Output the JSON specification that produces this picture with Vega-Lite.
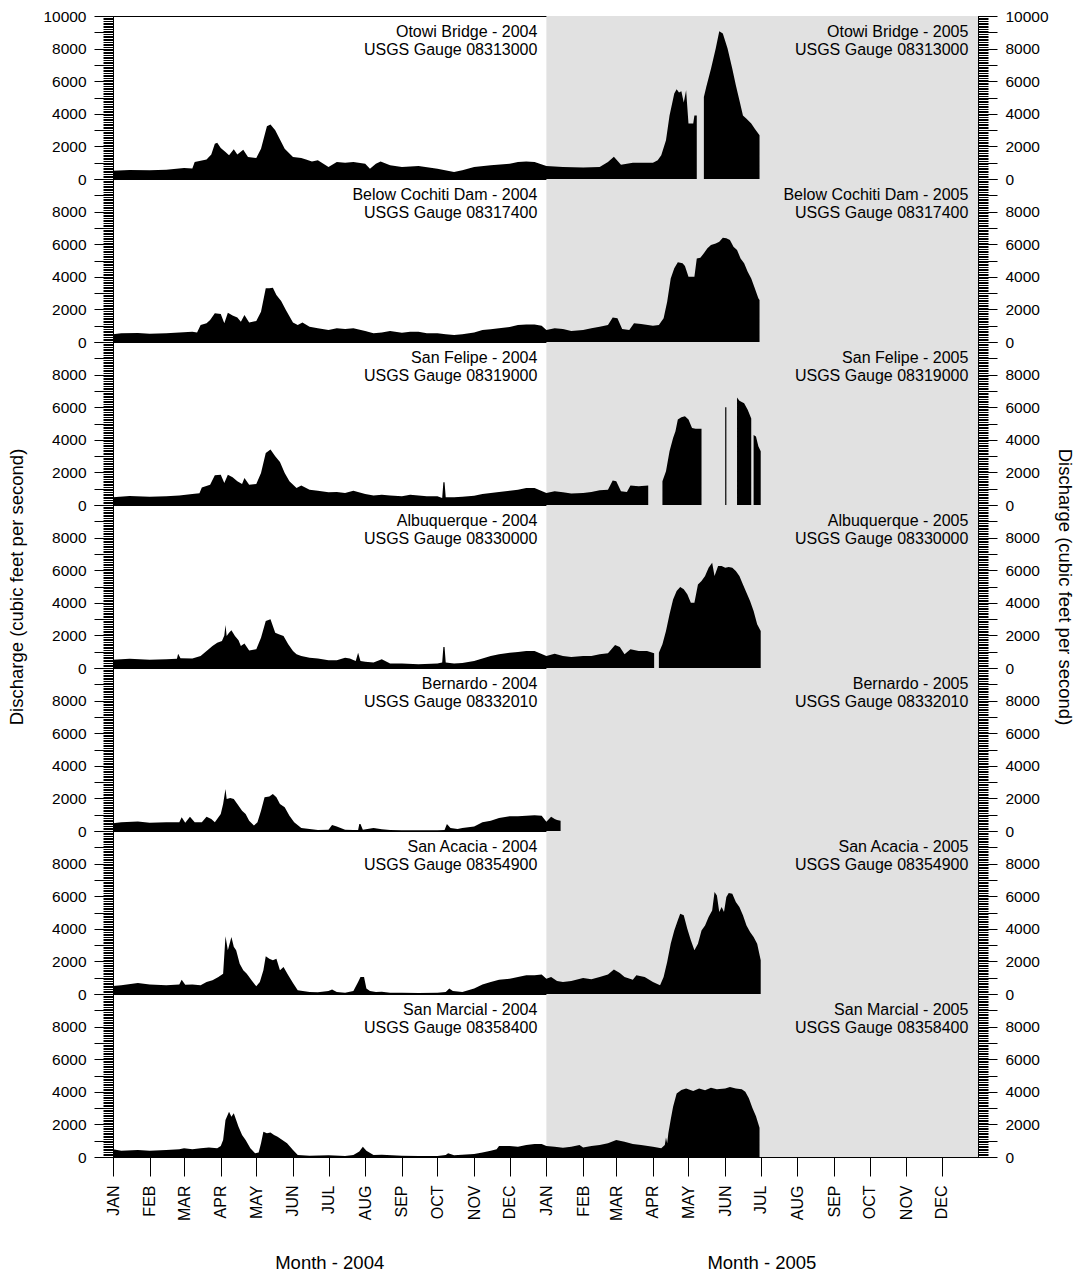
{
  "$schema": "https://vega.github.io/schema/vega-lite/v6.json",
  "background": "white",
  "padding": {"left": 7, "top": 8, "right": 6, "bottom": 0},
  "spacing": 0,
  "bounds": "flush",
  "config": {
    "font": "Liberation Sans",
    "view": {"stroke": "black", "strokeWidth": 1},
    "axis": {"labelFont": "Liberation Sans", "labelFontSize": 15.5, "labelColor": "black", "tickColor": "black", "domainColor": "black", "titleFont": "Liberation Sans", "titleFontSize": 18.5, "titleFontWeight": "normal", "titleColor": "black", "grid": false},
    "text": {"font": "Liberation Sans", "color": "black"}
  },
  "datasets": {
    "s1": [{"d":"2004-01-01","q":510},{"d":"2004-01-15","q":550},{"d":"2004-02-01","q":530},{"d":"2004-02-15","q":570},{"d":"2004-03-01","q":670},{"d":"2004-03-08","q":640},{"d":"2004-03-10","q":1040},{"d":"2004-03-20","q":1200},{"d":"2004-03-24","q":1500},{"d":"2004-03-27","q":2170},{"d":"2004-03-29","q":2230},{"d":"2004-04-01","q":1900},{"d":"2004-04-05","q":1660},{"d":"2004-04-08","q":1450},{"d":"2004-04-12","q":1820},{"d":"2004-04-15","q":1500},{"d":"2004-04-20","q":1800},{"d":"2004-04-24","q":1350},{"d":"2004-05-01","q":1290},{"d":"2004-05-05","q":1860},{"d":"2004-05-10","q":3230},{"d":"2004-05-13","q":3350},{"d":"2004-05-17","q":2990},{"d":"2004-05-21","q":2430},{"d":"2004-05-25","q":1860},{"d":"2004-06-01","q":1350},{"d":"2004-06-08","q":1290},{"d":"2004-06-12","q":1200},{"d":"2004-06-17","q":1080},{"d":"2004-06-22","q":1150},{"d":"2004-07-01","q":740},{"d":"2004-07-08","q":1040},{"d":"2004-07-15","q":1000},{"d":"2004-07-22","q":1040},{"d":"2004-08-01","q":940},{"d":"2004-08-05","q":630},{"d":"2004-08-10","q":940},{"d":"2004-08-14","q":1080},{"d":"2004-08-22","q":840},{"d":"2004-09-01","q":740},{"d":"2004-09-15","q":800},{"d":"2004-10-01","q":630},{"d":"2004-10-15","q":430},{"d":"2004-10-22","q":530},{"d":"2004-11-01","q":740},{"d":"2004-11-15","q":840},{"d":"2004-12-01","q":940},{"d":"2004-12-08","q":1040},{"d":"2004-12-15","q":1080},{"d":"2004-12-22","q":1040},{"d":"2005-01-01","q":800},{"d":"2005-01-15","q":740},{"d":"2005-02-01","q":700},{"d":"2005-02-15","q":740},{"d":"2005-02-22","q":1040},{"d":"2005-02-27","q":1370},{"d":"2005-03-05","q":880},{"d":"2005-03-15","q":1000},{"d":"2005-04-01","q":1000},{"d":"2005-04-05","q":1150},{"d":"2005-04-08","q":1450},{"d":"2005-04-12","q":2370},{"d":"2005-04-15","q":3900},{"d":"2005-04-19","q":5240},{"d":"2005-04-21","q":5500},{"d":"2005-04-23","q":5300},{"d":"2005-04-25","q":5380},{"d":"2005-04-27","q":4700},{"d":"2005-04-29","q":5440},{"d":"2005-05-01","q":3400},{"d":"2005-05-05","q":3400},{"d":"2005-05-06","q":3900},{"d":"2005-05-08","q":3900},{"d":"2005-05-10","q":null},{"d":"2005-05-14","q":5030},{"d":"2005-05-16","q":5640},{"d":"2005-05-20","q":6770},{"d":"2005-05-24","q":8000},{"d":"2005-05-27","q":9060},{"d":"2005-05-30","q":8920},{"d":"2005-06-03","q":8000},{"d":"2005-06-07","q":6770},{"d":"2005-06-10","q":5750},{"d":"2005-06-13","q":4830},{"d":"2005-06-16","q":3900},{"d":"2005-06-19","q":3700},{"d":"2005-06-23","q":3400},{"d":"2005-06-26","q":3090},{"d":"2005-06-30","q":2680}],
    "s2": [{"d":"2004-01-01","q":470},{"d":"2004-01-08","q":530},{"d":"2004-01-22","q":550},{"d":"2004-02-01","q":510},{"d":"2004-02-15","q":530},{"d":"2004-02-26","q":590},{"d":"2004-03-08","q":630},{"d":"2004-03-12","q":590},{"d":"2004-03-15","q":1040},{"d":"2004-03-20","q":1150},{"d":"2004-03-23","q":1350},{"d":"2004-03-27","q":1760},{"d":"2004-04-01","q":1720},{"d":"2004-04-04","q":1150},{"d":"2004-04-07","q":1800},{"d":"2004-04-11","q":1620},{"d":"2004-04-15","q":1500},{"d":"2004-04-18","q":1250},{"d":"2004-04-21","q":1660},{"d":"2004-04-25","q":1200},{"d":"2004-05-01","q":1290},{"d":"2004-05-05","q":1860},{"d":"2004-05-09","q":3290},{"d":"2004-05-12","q":3290},{"d":"2004-05-15","q":3330},{"d":"2004-05-18","q":2880},{"d":"2004-05-22","q":2520},{"d":"2004-05-26","q":1960},{"d":"2004-06-01","q":1200},{"d":"2004-06-05","q":1040},{"d":"2004-06-09","q":1200},{"d":"2004-06-15","q":940},{"d":"2004-06-22","q":840},{"d":"2004-07-01","q":740},{"d":"2004-07-08","q":840},{"d":"2004-07-15","q":800},{"d":"2004-07-22","q":840},{"d":"2004-08-01","q":670},{"d":"2004-08-08","q":530},{"d":"2004-08-15","q":590},{"d":"2004-08-22","q":670},{"d":"2004-09-01","q":570},{"d":"2004-09-08","q":630},{"d":"2004-09-15","q":630},{"d":"2004-09-22","q":530},{"d":"2004-10-01","q":530},{"d":"2004-10-08","q":470},{"d":"2004-10-15","q":430},{"d":"2004-10-22","q":470},{"d":"2004-11-01","q":590},{"d":"2004-11-08","q":740},{"d":"2004-11-15","q":780},{"d":"2004-11-22","q":840},{"d":"2004-12-01","q":920},{"d":"2004-12-08","q":1040},{"d":"2004-12-15","q":1080},{"d":"2004-12-22","q":1080},{"d":"2004-12-28","q":1000},{"d":"2005-01-01","q":740},{"d":"2005-01-08","q":840},{"d":"2005-01-15","q":800},{"d":"2005-01-22","q":670},{"d":"2005-02-01","q":740},{"d":"2005-02-08","q":840},{"d":"2005-02-15","q":940},{"d":"2005-02-22","q":1040},{"d":"2005-02-26","q":1500},{"d":"2005-03-02","q":1450},{"d":"2005-03-06","q":800},{"d":"2005-03-12","q":740},{"d":"2005-03-16","q":1150},{"d":"2005-03-22","q":1100},{"d":"2005-04-01","q":1000},{"d":"2005-04-06","q":1040},{"d":"2005-04-10","q":1450},{"d":"2005-04-13","q":2470},{"d":"2005-04-16","q":3900},{"d":"2005-04-19","q":4520},{"d":"2005-04-22","q":4890},{"d":"2005-04-26","q":4830},{"d":"2005-04-28","q":4660},{"d":"2005-05-01","q":4010},{"d":"2005-05-06","q":4010},{"d":"2005-05-08","q":5130},{"d":"2005-05-11","q":5170},{"d":"2005-05-14","q":5440},{"d":"2005-05-17","q":5750},{"d":"2005-05-20","q":5950},{"d":"2005-05-24","q":6050},{"d":"2005-05-27","q":6150},{"d":"2005-05-30","q":6400},{"d":"2005-06-02","q":6360},{"d":"2005-06-05","q":6260},{"d":"2005-06-08","q":5850},{"d":"2005-06-11","q":5640},{"d":"2005-06-14","q":5130},{"d":"2005-06-17","q":4830},{"d":"2005-06-20","q":4310},{"d":"2005-06-23","q":3900},{"d":"2005-06-26","q":3290},{"d":"2005-06-29","q":2680},{"d":"2005-06-30","q":2580}],
    "s3": [{"d":"2004-01-01","q":470},{"d":"2004-01-15","q":550},{"d":"2004-02-01","q":510},{"d":"2004-02-15","q":530},{"d":"2004-02-26","q":590},{"d":"2004-03-08","q":670},{"d":"2004-03-14","q":720},{"d":"2004-03-16","q":1080},{"d":"2004-03-23","q":1250},{"d":"2004-03-27","q":1820},{"d":"2004-04-01","q":1860},{"d":"2004-04-04","q":1350},{"d":"2004-04-07","q":1860},{"d":"2004-04-11","q":1700},{"d":"2004-04-15","q":1450},{"d":"2004-04-19","q":1290},{"d":"2004-04-21","q":1660},{"d":"2004-04-25","q":1250},{"d":"2004-05-01","q":1290},{"d":"2004-05-05","q":1960},{"d":"2004-05-09","q":3190},{"d":"2004-05-13","q":3400},{"d":"2004-05-17","q":2990},{"d":"2004-05-21","q":2640},{"d":"2004-05-25","q":1960},{"d":"2004-05-29","q":1450},{"d":"2004-06-04","q":1040},{"d":"2004-06-08","q":1200},{"d":"2004-06-15","q":940},{"d":"2004-06-22","q":880},{"d":"2004-07-01","q":780},{"d":"2004-07-08","q":800},{"d":"2004-07-15","q":740},{"d":"2004-07-22","q":880},{"d":"2004-08-01","q":670},{"d":"2004-08-08","q":590},{"d":"2004-08-15","q":630},{"d":"2004-08-22","q":590},{"d":"2004-09-01","q":530},{"d":"2004-09-08","q":630},{"d":"2004-09-15","q":590},{"d":"2004-09-22","q":530},{"d":"2004-10-01","q":530},{"d":"2004-10-05","q":430},{"d":"2004-10-06","q":1390},{"d":"2004-10-07","q":1390},{"d":"2004-10-08","q":470},{"d":"2004-10-15","q":470},{"d":"2004-10-22","q":510},{"d":"2004-11-01","q":570},{"d":"2004-11-08","q":670},{"d":"2004-11-15","q":740},{"d":"2004-11-22","q":800},{"d":"2004-12-01","q":880},{"d":"2004-12-08","q":940},{"d":"2004-12-15","q":1040},{"d":"2004-12-22","q":1040},{"d":"2005-01-01","q":740},{"d":"2005-01-08","q":840},{"d":"2005-01-15","q":780},{"d":"2005-01-22","q":700},{"d":"2005-02-01","q":740},{"d":"2005-02-08","q":800},{"d":"2005-02-15","q":900},{"d":"2005-02-22","q":940},{"d":"2005-02-26","q":1500},{"d":"2005-03-01","q":1450},{"d":"2005-03-05","q":840},{"d":"2005-03-10","q":800},{"d":"2005-03-13","q":1200},{"d":"2005-03-20","q":1150},{"d":"2005-03-28","q":1190},{"d":"2005-04-02","q":null},{"d":"2005-04-09","q":1450},{"d":"2005-04-12","q":2070},{"d":"2005-04-15","q":3290},{"d":"2005-04-18","q":4110},{"d":"2005-04-20","q":4520},{"d":"2005-04-22","q":5240},{"d":"2005-04-25","q":5380},{"d":"2005-04-28","q":5440},{"d":"2005-05-01","q":5240},{"d":"2005-05-04","q":4720},{"d":"2005-05-07","q":4680},{"d":"2005-05-12","q":4680},{"d":"2005-05-20","q":null},{"d":"2005-06-01","q":5990},{"d":"2005-06-02","q":5990},{"d":"2005-06-06","q":null},{"d":"2005-06-11","q":6600},{"d":"2005-06-13","q":6400},{"d":"2005-06-17","q":6250},{"d":"2005-06-20","q":5850},{"d":"2005-06-23","q":5300},{"d":"2005-06-24","q":null},{"d":"2005-06-25","q":4300},{"d":"2005-06-27","q":4200},{"d":"2005-06-29","q":3600},{"d":"2005-07-01","q":3300}],
    "s4": [{"d":"2004-01-01","q":510},{"d":"2004-01-15","q":570},{"d":"2004-02-01","q":510},{"d":"2004-02-15","q":530},{"d":"2004-02-24","q":560},{"d":"2004-02-25","q":880},{"d":"2004-02-27","q":600},{"d":"2004-03-08","q":590},{"d":"2004-03-15","q":740},{"d":"2004-03-20","q":1040},{"d":"2004-03-25","q":1350},{"d":"2004-03-29","q":1550},{"d":"2004-04-02","q":1660},{"d":"2004-04-04","q":2000},{"d":"2004-04-05","q":2640},{"d":"2004-04-06","q":1960},{"d":"2004-04-08","q":2170},{"d":"2004-04-10","q":2310},{"d":"2004-04-13","q":1960},{"d":"2004-04-16","q":1700},{"d":"2004-04-18","q":1350},{"d":"2004-04-21","q":1500},{"d":"2004-04-25","q":1080},{"d":"2004-05-01","q":1150},{"d":"2004-05-05","q":1860},{"d":"2004-05-09","q":2880},{"d":"2004-05-13","q":2990},{"d":"2004-05-17","q":2170},{"d":"2004-05-20","q":2070},{"d":"2004-05-24","q":1960},{"d":"2004-05-28","q":1450},{"d":"2004-06-01","q":1040},{"d":"2004-06-04","q":840},{"d":"2004-06-08","q":740},{"d":"2004-06-15","q":630},{"d":"2004-06-22","q":590},{"d":"2004-07-01","q":470},{"d":"2004-07-08","q":470},{"d":"2004-07-15","q":630},{"d":"2004-07-19","q":590},{"d":"2004-07-24","q":430},{"d":"2004-07-26","q":940},{"d":"2004-07-28","q":430},{"d":"2004-08-01","q":390},{"d":"2004-08-08","q":330},{"d":"2004-08-15","q":530},{"d":"2004-08-22","q":270},{"d":"2004-09-01","q":270},{"d":"2004-09-15","q":230},{"d":"2004-10-01","q":270},{"d":"2004-10-05","q":330},{"d":"2004-10-06","q":1290},{"d":"2004-10-07","q":1290},{"d":"2004-10-08","q":330},{"d":"2004-10-15","q":270},{"d":"2004-10-22","q":310},{"d":"2004-11-01","q":430},{"d":"2004-11-08","q":590},{"d":"2004-11-15","q":740},{"d":"2004-11-22","q":840},{"d":"2004-12-01","q":940},{"d":"2004-12-08","q":980},{"d":"2004-12-15","q":1040},{"d":"2004-12-22","q":1040},{"d":"2005-01-01","q":740},{"d":"2005-01-08","q":880},{"d":"2005-01-15","q":740},{"d":"2005-01-22","q":670},{"d":"2005-02-01","q":740},{"d":"2005-02-08","q":740},{"d":"2005-02-15","q":840},{"d":"2005-02-22","q":900},{"d":"2005-02-28","q":1410},{"d":"2005-03-04","q":1290},{"d":"2005-03-08","q":840},{"d":"2005-03-13","q":1150},{"d":"2005-03-20","q":1040},{"d":"2005-03-27","q":1040},{"d":"2005-04-02","q":900},{"d":"2005-04-04","q":null},{"d":"2005-04-06","q":940},{"d":"2005-04-09","q":1450},{"d":"2005-04-12","q":2270},{"d":"2005-04-15","q":3290},{"d":"2005-04-18","q":4210},{"d":"2005-04-21","q":4720},{"d":"2005-04-24","q":4970},{"d":"2005-04-27","q":4830},{"d":"2005-04-30","q":4520},{"d":"2005-05-03","q":4010},{"d":"2005-05-06","q":4010},{"d":"2005-05-09","q":5130},{"d":"2005-05-12","q":5340},{"d":"2005-05-15","q":5640},{"d":"2005-05-18","q":6150},{"d":"2005-05-21","q":6460},{"d":"2005-05-23","q":5640},{"d":"2005-05-26","q":6260},{"d":"2005-05-29","q":6260},{"d":"2005-06-01","q":6150},{"d":"2005-06-04","q":6200},{"d":"2005-06-07","q":6150},{"d":"2005-06-10","q":5950},{"d":"2005-06-13","q":5640},{"d":"2005-06-16","q":5130},{"d":"2005-06-19","q":4620},{"d":"2005-06-22","q":4110},{"d":"2005-06-25","q":3500},{"d":"2005-06-28","q":2680},{"d":"2005-07-01","q":2270}],
    "s5": [{"d":"2004-01-01","q":470},{"d":"2004-01-08","q":530},{"d":"2004-01-22","q":590},{"d":"2004-02-01","q":510},{"d":"2004-02-15","q":530},{"d":"2004-02-26","q":530},{"d":"2004-02-28","q":840},{"d":"2004-03-02","q":510},{"d":"2004-03-06","q":880},{"d":"2004-03-10","q":530},{"d":"2004-03-16","q":530},{"d":"2004-03-20","q":880},{"d":"2004-03-24","q":740},{"d":"2004-03-27","q":530},{"d":"2004-04-01","q":1040},{"d":"2004-04-03","q":1660},{"d":"2004-04-05","q":2580},{"d":"2004-04-06","q":1960},{"d":"2004-04-09","q":2020},{"d":"2004-04-12","q":1960},{"d":"2004-04-15","q":1660},{"d":"2004-04-19","q":1250},{"d":"2004-04-22","q":1040},{"d":"2004-04-25","q":630},{"d":"2004-04-29","q":330},{"d":"2004-05-02","q":530},{"d":"2004-05-05","q":1250},{"d":"2004-05-08","q":2070},{"d":"2004-05-12","q":2110},{"d":"2004-05-15","q":2270},{"d":"2004-05-18","q":2070},{"d":"2004-05-21","q":1660},{"d":"2004-05-25","q":1450},{"d":"2004-05-29","q":940},{"d":"2004-06-02","q":530},{"d":"2004-06-08","q":180},{"d":"2004-06-15","q":120},{"d":"2004-06-22","q":60},{"d":"2004-07-01","q":80},{"d":"2004-07-04","q":370},{"d":"2004-07-08","q":270},{"d":"2004-07-15","q":80},{"d":"2004-07-22","q":60},{"d":"2004-07-26","q":60},{"d":"2004-07-27","q":430},{"d":"2004-07-28","q":430},{"d":"2004-07-30","q":80},{"d":"2004-08-08","q":180},{"d":"2004-08-15","q":100},{"d":"2004-08-22","q":60},{"d":"2004-09-01","q":40},{"d":"2004-09-15","q":40},{"d":"2004-10-01","q":40},{"d":"2004-10-07","q":60},{"d":"2004-10-09","q":430},{"d":"2004-10-12","q":180},{"d":"2004-10-18","q":120},{"d":"2004-10-22","q":180},{"d":"2004-11-01","q":270},{"d":"2004-11-08","q":530},{"d":"2004-11-15","q":630},{"d":"2004-11-22","q":800},{"d":"2004-12-01","q":900},{"d":"2004-12-08","q":900},{"d":"2004-12-15","q":940},{"d":"2004-12-22","q":960},{"d":"2004-12-28","q":940},{"d":"2005-01-01","q":570},{"d":"2005-01-05","q":880},{"d":"2005-01-08","q":740},{"d":"2005-01-10","q":670},{"d":"2005-01-13","q":630}],
    "s6": [{"d":"2004-01-01","q":490},{"d":"2004-01-08","q":530},{"d":"2004-01-22","q":670},{"d":"2004-02-01","q":590},{"d":"2004-02-15","q":530},{"d":"2004-02-26","q":590},{"d":"2004-02-28","q":880},{"d":"2004-03-02","q":570},{"d":"2004-03-08","q":590},{"d":"2004-03-15","q":530},{"d":"2004-03-20","q":740},{"d":"2004-03-25","q":840},{"d":"2004-03-30","q":1040},{"d":"2004-04-03","q":1250},{"d":"2004-04-05","q":3540},{"d":"2004-04-07","q":2680},{"d":"2004-04-10","q":3500},{"d":"2004-04-12","q":2900},{"d":"2004-04-14","q":2680},{"d":"2004-04-17","q":1860},{"d":"2004-04-20","q":1450},{"d":"2004-04-23","q":1250},{"d":"2004-04-27","q":840},{"d":"2004-05-01","q":470},{"d":"2004-05-04","q":740},{"d":"2004-05-07","q":1450},{"d":"2004-05-09","q":2310},{"d":"2004-05-12","q":2170},{"d":"2004-05-15","q":2070},{"d":"2004-05-18","q":2170},{"d":"2004-05-21","q":1450},{"d":"2004-05-24","q":1660},{"d":"2004-05-28","q":1150},{"d":"2004-06-01","q":670},{"d":"2004-06-05","q":230},{"d":"2004-06-15","q":120},{"d":"2004-06-22","q":100},{"d":"2004-07-01","q":180},{"d":"2004-07-04","q":270},{"d":"2004-07-08","q":120},{"d":"2004-07-15","q":80},{"d":"2004-07-22","q":180},{"d":"2004-07-26","q":740},{"d":"2004-07-28","q":1040},{"d":"2004-07-31","q":1040},{"d":"2004-08-02","q":330},{"d":"2004-08-05","q":180},{"d":"2004-08-10","q":120},{"d":"2004-08-15","q":140},{"d":"2004-08-22","q":80},{"d":"2004-09-01","q":80},{"d":"2004-09-15","q":60},{"d":"2004-10-01","q":80},{"d":"2004-10-08","q":120},{"d":"2004-10-11","q":330},{"d":"2004-10-14","q":180},{"d":"2004-10-22","q":120},{"d":"2004-11-01","q":330},{"d":"2004-11-08","q":590},{"d":"2004-11-15","q":740},{"d":"2004-11-22","q":880},{"d":"2004-12-01","q":940},{"d":"2004-12-08","q":1040},{"d":"2004-12-15","q":1150},{"d":"2004-12-22","q":1150},{"d":"2004-12-28","q":1190},{"d":"2005-01-01","q":940},{"d":"2005-01-05","q":1040},{"d":"2005-01-10","q":800},{"d":"2005-01-15","q":740},{"d":"2005-01-22","q":800},{"d":"2005-02-01","q":980},{"d":"2005-02-08","q":900},{"d":"2005-02-15","q":1040},{"d":"2005-02-22","q":1200},{"d":"2005-02-27","q":1500},{"d":"2005-03-04","q":1290},{"d":"2005-03-08","q":1040},{"d":"2005-03-15","q":880},{"d":"2005-03-18","q":1150},{"d":"2005-03-25","q":1040},{"d":"2005-04-01","q":740},{"d":"2005-04-07","q":530},{"d":"2005-04-10","q":1040},{"d":"2005-04-13","q":1960},{"d":"2005-04-16","q":3090},{"d":"2005-04-19","q":3900},{"d":"2005-04-22","q":4520},{"d":"2005-04-24","q":4930},{"d":"2005-04-27","q":4830},{"d":"2005-04-30","q":4010},{"d":"2005-05-03","q":3290},{"d":"2005-05-06","q":2680},{"d":"2005-05-09","q":3090},{"d":"2005-05-12","q":3900},{"d":"2005-05-15","q":4210},{"d":"2005-05-18","q":4720},{"d":"2005-05-21","q":5130},{"d":"2005-05-23","q":6260},{"d":"2005-05-25","q":6050},{"d":"2005-05-27","q":5030},{"d":"2005-05-29","q":5340},{"d":"2005-05-31","q":5030},{"d":"2005-06-02","q":5950},{"d":"2005-06-04","q":6200},{"d":"2005-06-07","q":6150},{"d":"2005-06-10","q":5640},{"d":"2005-06-13","q":5340},{"d":"2005-06-16","q":4830},{"d":"2005-06-19","q":4210},{"d":"2005-06-22","q":3800},{"d":"2005-06-25","q":3500},{"d":"2005-06-28","q":3090},{"d":"2005-07-01","q":2070}],
    "s7": [{"d":"2004-01-01","q":470},{"d":"2004-01-08","q":390},{"d":"2004-01-22","q":430},{"d":"2004-02-01","q":390},{"d":"2004-02-15","q":430},{"d":"2004-02-26","q":470},{"d":"2004-03-01","q":530},{"d":"2004-03-08","q":470},{"d":"2004-03-15","q":530},{"d":"2004-03-22","q":590},{"d":"2004-03-29","q":530},{"d":"2004-04-01","q":670},{"d":"2004-04-03","q":1040},{"d":"2004-04-05","q":2270},{"d":"2004-04-08","q":2780},{"d":"2004-04-10","q":2470},{"d":"2004-04-12","q":2680},{"d":"2004-04-14","q":2270},{"d":"2004-04-16","q":1860},{"d":"2004-04-19","q":1350},{"d":"2004-04-22","q":1040},{"d":"2004-04-26","q":530},{"d":"2004-04-30","q":230},{"d":"2004-05-03","q":270},{"d":"2004-05-05","q":840},{"d":"2004-05-07","q":1550},{"d":"2004-05-10","q":1450},{"d":"2004-05-13","q":1500},{"d":"2004-05-16","q":1350},{"d":"2004-05-19","q":1250},{"d":"2004-05-23","q":1040},{"d":"2004-05-27","q":840},{"d":"2004-06-01","q":430},{"d":"2004-06-05","q":120},{"d":"2004-06-15","q":80},{"d":"2004-07-01","q":100},{"d":"2004-07-15","q":60},{"d":"2004-07-22","q":120},{"d":"2004-07-27","q":330},{"d":"2004-07-30","q":630},{"d":"2004-08-02","q":390},{"d":"2004-08-08","q":120},{"d":"2004-08-15","q":140},{"d":"2004-09-01","q":80},{"d":"2004-09-15","q":60},{"d":"2004-10-01","q":60},{"d":"2004-10-08","q":120},{"d":"2004-10-10","q":230},{"d":"2004-10-15","q":100},{"d":"2004-11-01","q":180},{"d":"2004-11-08","q":270},{"d":"2004-11-15","q":390},{"d":"2004-11-20","q":470},{"d":"2004-11-22","q":670},{"d":"2004-12-01","q":670},{"d":"2004-12-08","q":630},{"d":"2004-12-15","q":740},{"d":"2004-12-22","q":800},{"d":"2004-12-28","q":800},{"d":"2005-01-01","q":670},{"d":"2005-01-08","q":630},{"d":"2005-01-15","q":570},{"d":"2005-01-22","q":630},{"d":"2005-01-29","q":740},{"d":"2005-02-01","q":590},{"d":"2005-02-08","q":670},{"d":"2005-02-15","q":740},{"d":"2005-02-22","q":840},{"d":"2005-03-01","q":1040},{"d":"2005-03-08","q":940},{"d":"2005-03-15","q":800},{"d":"2005-03-22","q":740},{"d":"2005-04-01","q":630},{"d":"2005-04-08","q":530},{"d":"2005-04-11","q":740},{"d":"2005-04-12","q":1200},{"d":"2005-04-13","q":840},{"d":"2005-04-14","q":1450},{"d":"2005-04-16","q":2300},{"d":"2005-04-18","q":3090},{"d":"2005-04-21","q":3900},{"d":"2005-04-25","q":4110},{"d":"2005-04-29","q":4210},{"d":"2005-05-05","q":4050},{"d":"2005-05-10","q":4200},{"d":"2005-05-15","q":4100},{"d":"2005-05-20","q":4250},{"d":"2005-05-25","q":4150},{"d":"2005-06-01","q":4200},{"d":"2005-06-05","q":4300},{"d":"2005-06-10","q":4200},{"d":"2005-06-15","q":4150},{"d":"2005-06-18","q":4000},{"d":"2005-06-21","q":3600},{"d":"2005-06-24","q":3000},{"d":"2005-06-27","q":2500},{"d":"2005-06-30","q":1800}]
  },
  "vconcat": [
    {
      "width": 865, "height": 163,
      "layer": [
        {"data": {"values": [{}]}, "mark": {"type": "rect", "color": "#e1e1e1"},
         "encoding": {
           "x": {"datum": {"year": 2005, "month": 1, "date": 1, "utc": true}, "type": "temporal", "scale": {"type": "utc", "domain": [{"year": 2004, "month": 1, "date": 1, "utc": true}, {"year": 2005, "month": 12, "date": 31, "hours": 12, "utc": true}]}, "axis": null},
           "x2": {"datum": {"year": 2005, "month": 12, "date": 31, "hours": 12, "utc": true}},
           "y": {"datum": 0, "type": "quantitative", "scale": {"domain": [0, 10000], "nice": false}, "axis": {"orient": "left", "tickCount": 10, "tickSize": 19, "labelPadding": 8, "format": "d", "labelExpr": "datum.value % 2000 == 0 ? datum.label : ''", "title": null, "labelOverlap": false, "labelFlush": false}},
           "y2": {"datum": 10000}}},
        {"data": {"name": "s1"}, "mark": {"type": "area", "color": "black", "invalid": "break-paths-filter-domains"},
         "encoding": {"x": {"field": "d", "type": "temporal", "axis": null},
           "y": {"field": "q", "type": "quantitative", "axis": {"orient": "left", "values": [0,100,200,300,400,500,600,700,800,900,1000,1100,1200,1300,1400,1500,1600,1700,1800,1900,2000,2100,2200,2300,2400,2500,2600,2700,2800,2900,3000,3100,3200,3300,3400,3500,3600,3700,3800,3900,4000,4100,4200,4300,4400,4500,4600,4700,4800,4900,5000,5100,5200,5300,5400,5500,5600,5700,5800,5900,6000,6100,6200,6300,6400,6500,6600,6700,6800,6900,7000,7100,7200,7300,7400,7500,7600,7700,7800,7900,8000,8100,8200,8300,8400,8500,8600,8700,8800,8900,9000,9100,9200,9300,9400,9500,9600,9700,9800,9900,10000], "tickSize": 10, "labels": false, "domain": false, "title": null}}}},
        {"data": {"values": [{"end": "2005-01-01", "site": "Otowi Bridge - 2004", "gauge": "USGS Gauge 08313000"}, {"end": "2005-12-31", "site": "Otowi Bridge - 2005", "gauge": "USGS Gauge 08313000"}]},
         "mark": {"type": "text", "align": "right", "baseline": "top", "dx": -9, "dy": 7.5, "fontSize": 16},
         "encoding": {"x": {"field": "end", "type": "temporal", "axis": null},
           "y": {"datum": 10000, "type": "quantitative", "axis": {"orient": "right", "tickCount": 10, "tickSize": 19, "labelPadding": 8, "format": "d", "labelExpr": "datum.value % 2000 == 0 ? datum.label : ''", "title": null, "labelOverlap": false, "labelFlush": false}},
           "text": {"field": "site"}}},
        {"data": {"values": [{"end": "2005-01-01", "site": "Otowi Bridge - 2004", "gauge": "USGS Gauge 08313000"}, {"end": "2005-12-31", "site": "Otowi Bridge - 2005", "gauge": "USGS Gauge 08313000"}]},
         "mark": {"type": "text", "align": "right", "baseline": "top", "dx": -9, "dy": 25.5, "fontSize": 16},
         "encoding": {"x": {"field": "end", "type": "temporal", "axis": null},
           "y": {"datum": 10000, "type": "quantitative", "axis": {"orient": "right", "values": [0,100,200,300,400,500,600,700,800,900,1000,1100,1200,1300,1400,1500,1600,1700,1800,1900,2000,2100,2200,2300,2400,2500,2600,2700,2800,2900,3000,3100,3200,3300,3400,3500,3600,3700,3800,3900,4000,4100,4200,4300,4400,4500,4600,4700,4800,4900,5000,5100,5200,5300,5400,5500,5600,5700,5800,5900,6000,6100,6200,6300,6400,6500,6600,6700,6800,6900,7000,7100,7200,7300,7400,7500,7600,7700,7800,7900,8000,8100,8200,8300,8400,8500,8600,8700,8800,8900,9000,9100,9200,9300,9400,9500,9600,9700,9800,9900,10000], "tickSize": 10, "labels": false, "domain": false, "title": null}},
           "text": {"field": "gauge"}}}
      ],
      "resolve": {"axis": {"y": "independent"}}
    },
    {
      "width": 865, "height": 163,
      "layer": [
        {"data": {"values": [{}]}, "mark": {"type": "rect", "color": "#e1e1e1"},
         "encoding": {
           "x": {"datum": {"year": 2005, "month": 1, "date": 1, "utc": true}, "type": "temporal", "scale": {"type": "utc", "domain": [{"year": 2004, "month": 1, "date": 1, "utc": true}, {"year": 2005, "month": 12, "date": 31, "hours": 12, "utc": true}]}, "axis": null},
           "x2": {"datum": {"year": 2005, "month": 12, "date": 31, "hours": 12, "utc": true}},
           "y": {"datum": 0, "type": "quantitative", "scale": {"domain": [0, 10000], "nice": false}, "axis": {"orient": "left", "tickCount": 10, "tickSize": 19, "labelPadding": 8, "format": "d", "labelExpr": "datum.value % 2000 == 0 && datum.value < 10000 ? datum.label : ''", "title": null, "labelOverlap": false, "labelFlush": false}},
           "y2": {"datum": 10000}}},
        {"data": {"name": "s2"}, "mark": {"type": "area", "color": "black", "invalid": "break-paths-filter-domains"},
         "encoding": {"x": {"field": "d", "type": "temporal", "axis": null},
           "y": {"field": "q", "type": "quantitative", "axis": {"orient": "left", "values": [0,100,200,300,400,500,600,700,800,900,1000,1100,1200,1300,1400,1500,1600,1700,1800,1900,2000,2100,2200,2300,2400,2500,2600,2700,2800,2900,3000,3100,3200,3300,3400,3500,3600,3700,3800,3900,4000,4100,4200,4300,4400,4500,4600,4700,4800,4900,5000,5100,5200,5300,5400,5500,5600,5700,5800,5900,6000,6100,6200,6300,6400,6500,6600,6700,6800,6900,7000,7100,7200,7300,7400,7500,7600,7700,7800,7900,8000,8100,8200,8300,8400,8500,8600,8700,8800,8900,9000,9100,9200,9300,9400,9500,9600,9700,9800,9900,10000], "tickSize": 10, "labels": false, "domain": false, "title": null}}}},
        {"data": {"values": [{"end": "2005-01-01", "site": "Below Cochiti Dam - 2004", "gauge": "USGS Gauge 08317400"}, {"end": "2005-12-31", "site": "Below Cochiti Dam - 2005", "gauge": "USGS Gauge 08317400"}]},
         "mark": {"type": "text", "align": "right", "baseline": "top", "dx": -9, "dy": 7.5, "fontSize": 16},
         "encoding": {"x": {"field": "end", "type": "temporal", "axis": null},
           "y": {"datum": 10000, "type": "quantitative", "axis": {"orient": "right", "tickCount": 10, "tickSize": 19, "labelPadding": 8, "format": "d", "labelExpr": "datum.value % 2000 == 0 && datum.value < 10000 ? datum.label : ''", "title": null, "labelOverlap": false, "labelFlush": false}},
           "text": {"field": "site"}}},
        {"data": {"values": [{"end": "2005-01-01", "site": "Below Cochiti Dam - 2004", "gauge": "USGS Gauge 08317400"}, {"end": "2005-12-31", "site": "Below Cochiti Dam - 2005", "gauge": "USGS Gauge 08317400"}]},
         "mark": {"type": "text", "align": "right", "baseline": "top", "dx": -9, "dy": 25.5, "fontSize": 16},
         "encoding": {"x": {"field": "end", "type": "temporal", "axis": null},
           "y": {"datum": 10000, "type": "quantitative", "axis": {"orient": "right", "values": [0,100,200,300,400,500,600,700,800,900,1000,1100,1200,1300,1400,1500,1600,1700,1800,1900,2000,2100,2200,2300,2400,2500,2600,2700,2800,2900,3000,3100,3200,3300,3400,3500,3600,3700,3800,3900,4000,4100,4200,4300,4400,4500,4600,4700,4800,4900,5000,5100,5200,5300,5400,5500,5600,5700,5800,5900,6000,6100,6200,6300,6400,6500,6600,6700,6800,6900,7000,7100,7200,7300,7400,7500,7600,7700,7800,7900,8000,8100,8200,8300,8400,8500,8600,8700,8800,8900,9000,9100,9200,9300,9400,9500,9600,9700,9800,9900,10000], "tickSize": 10, "labels": false, "domain": false, "title": null}},
           "text": {"field": "gauge"}}}
      ],
      "resolve": {"axis": {"y": "independent"}}
    },
    {
      "width": 865, "height": 163,
      "layer": [
        {"data": {"values": [{}]}, "mark": {"type": "rect", "color": "#e1e1e1"},
         "encoding": {
           "x": {"datum": {"year": 2005, "month": 1, "date": 1, "utc": true}, "type": "temporal", "scale": {"type": "utc", "domain": [{"year": 2004, "month": 1, "date": 1, "utc": true}, {"year": 2005, "month": 12, "date": 31, "hours": 12, "utc": true}]}, "axis": null},
           "x2": {"datum": {"year": 2005, "month": 12, "date": 31, "hours": 12, "utc": true}},
           "y": {"datum": 0, "type": "quantitative", "scale": {"domain": [0, 10000], "nice": false}, "axis": {"orient": "left", "tickCount": 10, "tickSize": 19, "labelPadding": 8, "format": "d", "labelExpr": "datum.value % 2000 == 0 && datum.value < 10000 ? datum.label : ''", "title": null, "labelOverlap": false, "labelFlush": false}},
           "y2": {"datum": 10000}}},
        {"data": {"name": "s3"}, "mark": {"type": "area", "color": "black", "invalid": "break-paths-filter-domains"},
         "encoding": {"x": {"field": "d", "type": "temporal", "axis": null},
           "y": {"field": "q", "type": "quantitative", "axis": {"orient": "left", "values": [0,100,200,300,400,500,600,700,800,900,1000,1100,1200,1300,1400,1500,1600,1700,1800,1900,2000,2100,2200,2300,2400,2500,2600,2700,2800,2900,3000,3100,3200,3300,3400,3500,3600,3700,3800,3900,4000,4100,4200,4300,4400,4500,4600,4700,4800,4900,5000,5100,5200,5300,5400,5500,5600,5700,5800,5900,6000,6100,6200,6300,6400,6500,6600,6700,6800,6900,7000,7100,7200,7300,7400,7500,7600,7700,7800,7900,8000,8100,8200,8300,8400,8500,8600,8700,8800,8900,9000,9100,9200,9300,9400,9500,9600,9700,9800,9900,10000], "tickSize": 10, "labels": false, "domain": false, "title": null}}}},
        {"data": {"values": [{"end": "2005-01-01", "site": "San Felipe - 2004", "gauge": "USGS Gauge 08319000"}, {"end": "2005-12-31", "site": "San Felipe - 2005", "gauge": "USGS Gauge 08319000"}]},
         "mark": {"type": "text", "align": "right", "baseline": "top", "dx": -9, "dy": 7.5, "fontSize": 16},
         "encoding": {"x": {"field": "end", "type": "temporal", "axis": null},
           "y": {"datum": 10000, "type": "quantitative", "axis": {"orient": "right", "tickCount": 10, "tickSize": 19, "labelPadding": 8, "format": "d", "labelExpr": "datum.value % 2000 == 0 && datum.value < 10000 ? datum.label : ''", "title": null, "labelOverlap": false, "labelFlush": false}},
           "text": {"field": "site"}}},
        {"data": {"values": [{"end": "2005-01-01", "site": "San Felipe - 2004", "gauge": "USGS Gauge 08319000"}, {"end": "2005-12-31", "site": "San Felipe - 2005", "gauge": "USGS Gauge 08319000"}]},
         "mark": {"type": "text", "align": "right", "baseline": "top", "dx": -9, "dy": 25.5, "fontSize": 16},
         "encoding": {"x": {"field": "end", "type": "temporal", "axis": null},
           "y": {"datum": 10000, "type": "quantitative", "axis": {"orient": "right", "values": [0,100,200,300,400,500,600,700,800,900,1000,1100,1200,1300,1400,1500,1600,1700,1800,1900,2000,2100,2200,2300,2400,2500,2600,2700,2800,2900,3000,3100,3200,3300,3400,3500,3600,3700,3800,3900,4000,4100,4200,4300,4400,4500,4600,4700,4800,4900,5000,5100,5200,5300,5400,5500,5600,5700,5800,5900,6000,6100,6200,6300,6400,6500,6600,6700,6800,6900,7000,7100,7200,7300,7400,7500,7600,7700,7800,7900,8000,8100,8200,8300,8400,8500,8600,8700,8800,8900,9000,9100,9200,9300,9400,9500,9600,9700,9800,9900,10000], "tickSize": 10, "labels": false, "domain": false, "title": null}},
           "text": {"field": "gauge"}}}
      ],
      "resolve": {"axis": {"y": "independent"}}
    },
    {
      "width": 865, "height": 163,
      "layer": [
        {"data": {"values": [{}]}, "mark": {"type": "rect", "color": "#e1e1e1"},
         "encoding": {
           "x": {"datum": {"year": 2005, "month": 1, "date": 1, "utc": true}, "type": "temporal", "scale": {"type": "utc", "domain": [{"year": 2004, "month": 1, "date": 1, "utc": true}, {"year": 2005, "month": 12, "date": 31, "hours": 12, "utc": true}]}, "axis": null},
           "x2": {"datum": {"year": 2005, "month": 12, "date": 31, "hours": 12, "utc": true}},
           "y": {"datum": 0, "type": "quantitative", "scale": {"domain": [0, 10000], "nice": false}, "axis": {"orient": "left", "tickCount": 10, "tickSize": 19, "labelPadding": 8, "format": "d", "labelExpr": "datum.value % 2000 == 0 && datum.value < 10000 ? datum.label : ''", "title": "Discharge (cubic feet per second)", "titlePadding": 25, "labelOverlap": false, "labelFlush": false}},
           "y2": {"datum": 10000}}},
        {"data": {"name": "s4"}, "mark": {"type": "area", "color": "black", "invalid": "break-paths-filter-domains"},
         "encoding": {"x": {"field": "d", "type": "temporal", "axis": null},
           "y": {"field": "q", "type": "quantitative", "axis": {"orient": "left", "values": [0,100,200,300,400,500,600,700,800,900,1000,1100,1200,1300,1400,1500,1600,1700,1800,1900,2000,2100,2200,2300,2400,2500,2600,2700,2800,2900,3000,3100,3200,3300,3400,3500,3600,3700,3800,3900,4000,4100,4200,4300,4400,4500,4600,4700,4800,4900,5000,5100,5200,5300,5400,5500,5600,5700,5800,5900,6000,6100,6200,6300,6400,6500,6600,6700,6800,6900,7000,7100,7200,7300,7400,7500,7600,7700,7800,7900,8000,8100,8200,8300,8400,8500,8600,8700,8800,8900,9000,9100,9200,9300,9400,9500,9600,9700,9800,9900,10000], "tickSize": 10, "labels": false, "domain": false, "title": null}}}},
        {"data": {"values": [{"end": "2005-01-01", "site": "Albuquerque - 2004", "gauge": "USGS Gauge 08330000"}, {"end": "2005-12-31", "site": "Albuquerque - 2005", "gauge": "USGS Gauge 08330000"}]},
         "mark": {"type": "text", "align": "right", "baseline": "top", "dx": -9, "dy": 7.5, "fontSize": 16},
         "encoding": {"x": {"field": "end", "type": "temporal", "axis": null},
           "y": {"datum": 10000, "type": "quantitative", "axis": {"orient": "right", "tickCount": 10, "tickSize": 19, "labelPadding": 8, "format": "d", "labelExpr": "datum.value % 2000 == 0 && datum.value < 10000 ? datum.label : ''", "title": "Discharge (cubic feet per second)", "titlePadding": 15, "labelOverlap": false, "labelFlush": false}},
           "text": {"field": "site"}}},
        {"data": {"values": [{"end": "2005-01-01", "site": "Albuquerque - 2004", "gauge": "USGS Gauge 08330000"}, {"end": "2005-12-31", "site": "Albuquerque - 2005", "gauge": "USGS Gauge 08330000"}]},
         "mark": {"type": "text", "align": "right", "baseline": "top", "dx": -9, "dy": 25.5, "fontSize": 16},
         "encoding": {"x": {"field": "end", "type": "temporal", "axis": null},
           "y": {"datum": 10000, "type": "quantitative", "axis": {"orient": "right", "values": [0,100,200,300,400,500,600,700,800,900,1000,1100,1200,1300,1400,1500,1600,1700,1800,1900,2000,2100,2200,2300,2400,2500,2600,2700,2800,2900,3000,3100,3200,3300,3400,3500,3600,3700,3800,3900,4000,4100,4200,4300,4400,4500,4600,4700,4800,4900,5000,5100,5200,5300,5400,5500,5600,5700,5800,5900,6000,6100,6200,6300,6400,6500,6600,6700,6800,6900,7000,7100,7200,7300,7400,7500,7600,7700,7800,7900,8000,8100,8200,8300,8400,8500,8600,8700,8800,8900,9000,9100,9200,9300,9400,9500,9600,9700,9800,9900,10000], "tickSize": 10, "labels": false, "domain": false, "title": null}},
           "text": {"field": "gauge"}}}
      ],
      "resolve": {"axis": {"y": "independent"}}
    },
    {
      "width": 865, "height": 163,
      "layer": [
        {"data": {"values": [{}]}, "mark": {"type": "rect", "color": "#e1e1e1"},
         "encoding": {
           "x": {"datum": {"year": 2005, "month": 1, "date": 1, "utc": true}, "type": "temporal", "scale": {"type": "utc", "domain": [{"year": 2004, "month": 1, "date": 1, "utc": true}, {"year": 2005, "month": 12, "date": 31, "hours": 12, "utc": true}]}, "axis": null},
           "x2": {"datum": {"year": 2005, "month": 12, "date": 31, "hours": 12, "utc": true}},
           "y": {"datum": 0, "type": "quantitative", "scale": {"domain": [0, 10000], "nice": false}, "axis": {"orient": "left", "tickCount": 10, "tickSize": 19, "labelPadding": 8, "format": "d", "labelExpr": "datum.value % 2000 == 0 && datum.value < 10000 ? datum.label : ''", "title": null, "labelOverlap": false, "labelFlush": false}},
           "y2": {"datum": 10000}}},
        {"data": {"name": "s5"}, "mark": {"type": "area", "color": "black", "invalid": "break-paths-filter-domains"},
         "encoding": {"x": {"field": "d", "type": "temporal", "axis": null},
           "y": {"field": "q", "type": "quantitative", "axis": {"orient": "left", "values": [0,100,200,300,400,500,600,700,800,900,1000,1100,1200,1300,1400,1500,1600,1700,1800,1900,2000,2100,2200,2300,2400,2500,2600,2700,2800,2900,3000,3100,3200,3300,3400,3500,3600,3700,3800,3900,4000,4100,4200,4300,4400,4500,4600,4700,4800,4900,5000,5100,5200,5300,5400,5500,5600,5700,5800,5900,6000,6100,6200,6300,6400,6500,6600,6700,6800,6900,7000,7100,7200,7300,7400,7500,7600,7700,7800,7900,8000,8100,8200,8300,8400,8500,8600,8700,8800,8900,9000,9100,9200,9300,9400,9500,9600,9700,9800,9900,10000], "tickSize": 10, "labels": false, "domain": false, "title": null}}}},
        {"data": {"values": [{"end": "2005-01-01", "site": "Bernardo - 2004", "gauge": "USGS Gauge 08332010"}, {"end": "2005-12-31", "site": "Bernardo - 2005", "gauge": "USGS Gauge 08332010"}]},
         "mark": {"type": "text", "align": "right", "baseline": "top", "dx": -9, "dy": 7.5, "fontSize": 16},
         "encoding": {"x": {"field": "end", "type": "temporal", "axis": null},
           "y": {"datum": 10000, "type": "quantitative", "axis": {"orient": "right", "tickCount": 10, "tickSize": 19, "labelPadding": 8, "format": "d", "labelExpr": "datum.value % 2000 == 0 && datum.value < 10000 ? datum.label : ''", "title": null, "labelOverlap": false, "labelFlush": false}},
           "text": {"field": "site"}}},
        {"data": {"values": [{"end": "2005-01-01", "site": "Bernardo - 2004", "gauge": "USGS Gauge 08332010"}, {"end": "2005-12-31", "site": "Bernardo - 2005", "gauge": "USGS Gauge 08332010"}]},
         "mark": {"type": "text", "align": "right", "baseline": "top", "dx": -9, "dy": 25.5, "fontSize": 16},
         "encoding": {"x": {"field": "end", "type": "temporal", "axis": null},
           "y": {"datum": 10000, "type": "quantitative", "axis": {"orient": "right", "values": [0,100,200,300,400,500,600,700,800,900,1000,1100,1200,1300,1400,1500,1600,1700,1800,1900,2000,2100,2200,2300,2400,2500,2600,2700,2800,2900,3000,3100,3200,3300,3400,3500,3600,3700,3800,3900,4000,4100,4200,4300,4400,4500,4600,4700,4800,4900,5000,5100,5200,5300,5400,5500,5600,5700,5800,5900,6000,6100,6200,6300,6400,6500,6600,6700,6800,6900,7000,7100,7200,7300,7400,7500,7600,7700,7800,7900,8000,8100,8200,8300,8400,8500,8600,8700,8800,8900,9000,9100,9200,9300,9400,9500,9600,9700,9800,9900,10000], "tickSize": 10, "labels": false, "domain": false, "title": null}},
           "text": {"field": "gauge"}}}
      ],
      "resolve": {"axis": {"y": "independent"}}
    },
    {
      "width": 865, "height": 163,
      "layer": [
        {"data": {"values": [{}]}, "mark": {"type": "rect", "color": "#e1e1e1"},
         "encoding": {
           "x": {"datum": {"year": 2005, "month": 1, "date": 1, "utc": true}, "type": "temporal", "scale": {"type": "utc", "domain": [{"year": 2004, "month": 1, "date": 1, "utc": true}, {"year": 2005, "month": 12, "date": 31, "hours": 12, "utc": true}]}, "axis": null},
           "x2": {"datum": {"year": 2005, "month": 12, "date": 31, "hours": 12, "utc": true}},
           "y": {"datum": 0, "type": "quantitative", "scale": {"domain": [0, 10000], "nice": false}, "axis": {"orient": "left", "tickCount": 10, "tickSize": 19, "labelPadding": 8, "format": "d", "labelExpr": "datum.value % 2000 == 0 && datum.value < 10000 ? datum.label : ''", "title": null, "labelOverlap": false, "labelFlush": false}},
           "y2": {"datum": 10000}}},
        {"data": {"name": "s6"}, "mark": {"type": "area", "color": "black", "invalid": "break-paths-filter-domains"},
         "encoding": {"x": {"field": "d", "type": "temporal", "axis": null},
           "y": {"field": "q", "type": "quantitative", "axis": {"orient": "left", "values": [0,100,200,300,400,500,600,700,800,900,1000,1100,1200,1300,1400,1500,1600,1700,1800,1900,2000,2100,2200,2300,2400,2500,2600,2700,2800,2900,3000,3100,3200,3300,3400,3500,3600,3700,3800,3900,4000,4100,4200,4300,4400,4500,4600,4700,4800,4900,5000,5100,5200,5300,5400,5500,5600,5700,5800,5900,6000,6100,6200,6300,6400,6500,6600,6700,6800,6900,7000,7100,7200,7300,7400,7500,7600,7700,7800,7900,8000,8100,8200,8300,8400,8500,8600,8700,8800,8900,9000,9100,9200,9300,9400,9500,9600,9700,9800,9900,10000], "tickSize": 10, "labels": false, "domain": false, "title": null}}}},
        {"data": {"values": [{"end": "2005-01-01", "site": "San Acacia - 2004", "gauge": "USGS Gauge 08354900"}, {"end": "2005-12-31", "site": "San Acacia - 2005", "gauge": "USGS Gauge 08354900"}]},
         "mark": {"type": "text", "align": "right", "baseline": "top", "dx": -9, "dy": 7.5, "fontSize": 16},
         "encoding": {"x": {"field": "end", "type": "temporal", "axis": null},
           "y": {"datum": 10000, "type": "quantitative", "axis": {"orient": "right", "tickCount": 10, "tickSize": 19, "labelPadding": 8, "format": "d", "labelExpr": "datum.value % 2000 == 0 && datum.value < 10000 ? datum.label : ''", "title": null, "labelOverlap": false, "labelFlush": false}},
           "text": {"field": "site"}}},
        {"data": {"values": [{"end": "2005-01-01", "site": "San Acacia - 2004", "gauge": "USGS Gauge 08354900"}, {"end": "2005-12-31", "site": "San Acacia - 2005", "gauge": "USGS Gauge 08354900"}]},
         "mark": {"type": "text", "align": "right", "baseline": "top", "dx": -9, "dy": 25.5, "fontSize": 16},
         "encoding": {"x": {"field": "end", "type": "temporal", "axis": null},
           "y": {"datum": 10000, "type": "quantitative", "axis": {"orient": "right", "values": [0,100,200,300,400,500,600,700,800,900,1000,1100,1200,1300,1400,1500,1600,1700,1800,1900,2000,2100,2200,2300,2400,2500,2600,2700,2800,2900,3000,3100,3200,3300,3400,3500,3600,3700,3800,3900,4000,4100,4200,4300,4400,4500,4600,4700,4800,4900,5000,5100,5200,5300,5400,5500,5600,5700,5800,5900,6000,6100,6200,6300,6400,6500,6600,6700,6800,6900,7000,7100,7200,7300,7400,7500,7600,7700,7800,7900,8000,8100,8200,8300,8400,8500,8600,8700,8800,8900,9000,9100,9200,9300,9400,9500,9600,9700,9800,9900,10000], "tickSize": 10, "labels": false, "domain": false, "title": null}},
           "text": {"field": "gauge"}}}
      ],
      "resolve": {"axis": {"y": "independent"}}
    },
    {
      "width": 865, "height": 163,
      "layer": [
        {"data": {"values": [{}]}, "mark": {"type": "rect", "color": "#e1e1e1"},
         "encoding": {
           "x": {"datum": {"year": 2005, "month": 1, "date": 1, "utc": true}, "type": "temporal", "scale": {"type": "utc", "domain": [{"year": 2004, "month": 1, "date": 1, "utc": true}, {"year": 2005, "month": 12, "date": 31, "hours": 12, "utc": true}]}},
           "x2": {"datum": {"year": 2005, "month": 12, "date": 31, "hours": 12, "utc": true}},
           "y": {"datum": 0, "type": "quantitative", "scale": {"domain": [0, 10000], "nice": false}, "axis": {"orient": "left", "tickCount": 10, "tickSize": 19, "labelPadding": 8, "format": "d", "labelExpr": "datum.value % 2000 == 0 && datum.value < 10000 ? datum.label : ''", "title": null, "labelOverlap": false, "labelFlush": false}},
           "y2": {"datum": 10000}}},
        {"data": {"name": "s7"}, "mark": {"type": "area", "color": "black", "invalid": "break-paths-filter-domains"},
         "encoding": {"x": {"field": "d", "type": "temporal",
             "axis": {"orient": "bottom", "tickCount": 40, "values": [{"year":2004,"month":1,"date":1,"utc":true},{"year":2004,"month":2,"date":1,"utc":true},{"year":2004,"month":3,"date":1,"utc":true},{"year":2004,"month":4,"date":1,"utc":true},{"year":2004,"month":5,"date":1,"utc":true},{"year":2004,"month":6,"date":1,"utc":true},{"year":2004,"month":7,"date":1,"utc":true},{"year":2004,"month":8,"date":1,"utc":true},{"year":2004,"month":9,"date":1,"utc":true},{"year":2004,"month":10,"date":1,"utc":true},{"year":2004,"month":11,"date":1,"utc":true},{"year":2004,"month":12,"date":1,"utc":true},{"year":2005,"month":1,"date":1,"utc":true},{"year":2005,"month":2,"date":1,"utc":true},{"year":2005,"month":3,"date":1,"utc":true},{"year":2005,"month":4,"date":1,"utc":true},{"year":2005,"month":5,"date":1,"utc":true},{"year":2005,"month":6,"date":1,"utc":true},{"year":2005,"month":7,"date":1,"utc":true},{"year":2005,"month":8,"date":1,"utc":true},{"year":2005,"month":9,"date":1,"utc":true},{"year":2005,"month":10,"date":1,"utc":true},{"year":2005,"month":11,"date":1,"utc":true},{"year":2005,"month":12,"date":1,"utc":true}], "labelExpr": "upper(utcFormat(datum.value, '%b'))", "labelAngle": -90, "tickSize": 19, "labelPadding": 9, "labelFontSize": 16, "title": null, "labelOverlap": false, "labelFlush": false, "grid": false}},
           "y": {"field": "q", "type": "quantitative", "axis": {"orient": "left", "values": [0,100,200,300,400,500,600,700,800,900,1000,1100,1200,1300,1400,1500,1600,1700,1800,1900,2000,2100,2200,2300,2400,2500,2600,2700,2800,2900,3000,3100,3200,3300,3400,3500,3600,3700,3800,3900,4000,4100,4200,4300,4400,4500,4600,4700,4800,4900,5000,5100,5200,5300,5400,5500,5600,5700,5800,5900,6000,6100,6200,6300,6400,6500,6600,6700,6800,6900,7000,7100,7200,7300,7400,7500,7600,7700,7800,7900,8000,8100,8200,8300,8400,8500,8600,8700,8800,8900,9000,9100,9200,9300,9400,9500,9600,9700,9800,9900,10000], "tickSize": 10, "labels": false, "domain": false, "title": null}}}},
        {"data": {"values": [{"end": "2005-01-01", "site": "San Marcial - 2004", "gauge": "USGS Gauge 08358400"}, {"end": "2005-12-31", "site": "San Marcial - 2005", "gauge": "USGS Gauge 08358400"}]},
         "mark": {"type": "text", "align": "right", "baseline": "top", "dx": -9, "dy": 7.5, "fontSize": 16},
         "encoding": {"x": {"field": "end", "type": "temporal"},
           "y": {"datum": 10000, "type": "quantitative", "axis": {"orient": "right", "tickCount": 10, "tickSize": 19, "labelPadding": 8, "format": "d", "labelExpr": "datum.value % 2000 == 0 && datum.value < 10000 ? datum.label : ''", "title": null, "labelOverlap": false, "labelFlush": false}},
           "text": {"field": "site"}}},
        {"data": {"values": [{"end": "2005-01-01", "site": "San Marcial - 2004", "gauge": "USGS Gauge 08358400"}, {"end": "2005-12-31", "site": "San Marcial - 2005", "gauge": "USGS Gauge 08358400"}]},
         "mark": {"type": "text", "align": "right", "baseline": "top", "dx": -9, "dy": 25.5, "fontSize": 16},
         "encoding": {"x": {"field": "end", "type": "temporal"},
           "y": {"datum": 10000, "type": "quantitative", "axis": {"orient": "right", "values": [0,100,200,300,400,500,600,700,800,900,1000,1100,1200,1300,1400,1500,1600,1700,1800,1900,2000,2100,2200,2300,2400,2500,2600,2700,2800,2900,3000,3100,3200,3300,3400,3500,3600,3700,3800,3900,4000,4100,4200,4300,4400,4500,4600,4700,4800,4900,5000,5100,5200,5300,5400,5500,5600,5700,5800,5900,6000,6100,6200,6300,6400,6500,6600,6700,6800,6900,7000,7100,7200,7300,7400,7500,7600,7700,7800,7900,8000,8100,8200,8300,8400,8500,8600,8700,8800,8900,9000,9100,9200,9300,9400,9500,9600,9700,9800,9900,10000], "tickSize": 10, "labels": false, "domain": false, "title": null}},
           "text": {"field": "gauge"}}},
        {"data": {"values": [{"mid": "2004-07-02", "t": "Month - 2004"}, {"mid": "2005-07-02", "t": "Month - 2005"}]},
         "mark": {"type": "text", "align": "center", "baseline": "middle", "dy": 106, "fontSize": 18.5},
         "encoding": {"x": {"field": "mid", "type": "temporal"},
           "y": {"datum": 0, "type": "quantitative", "axis": null},
           "text": {"field": "t"}}}
      ],
      "resolve": {"axis": {"y": "independent"}}
    }
  ]
}
